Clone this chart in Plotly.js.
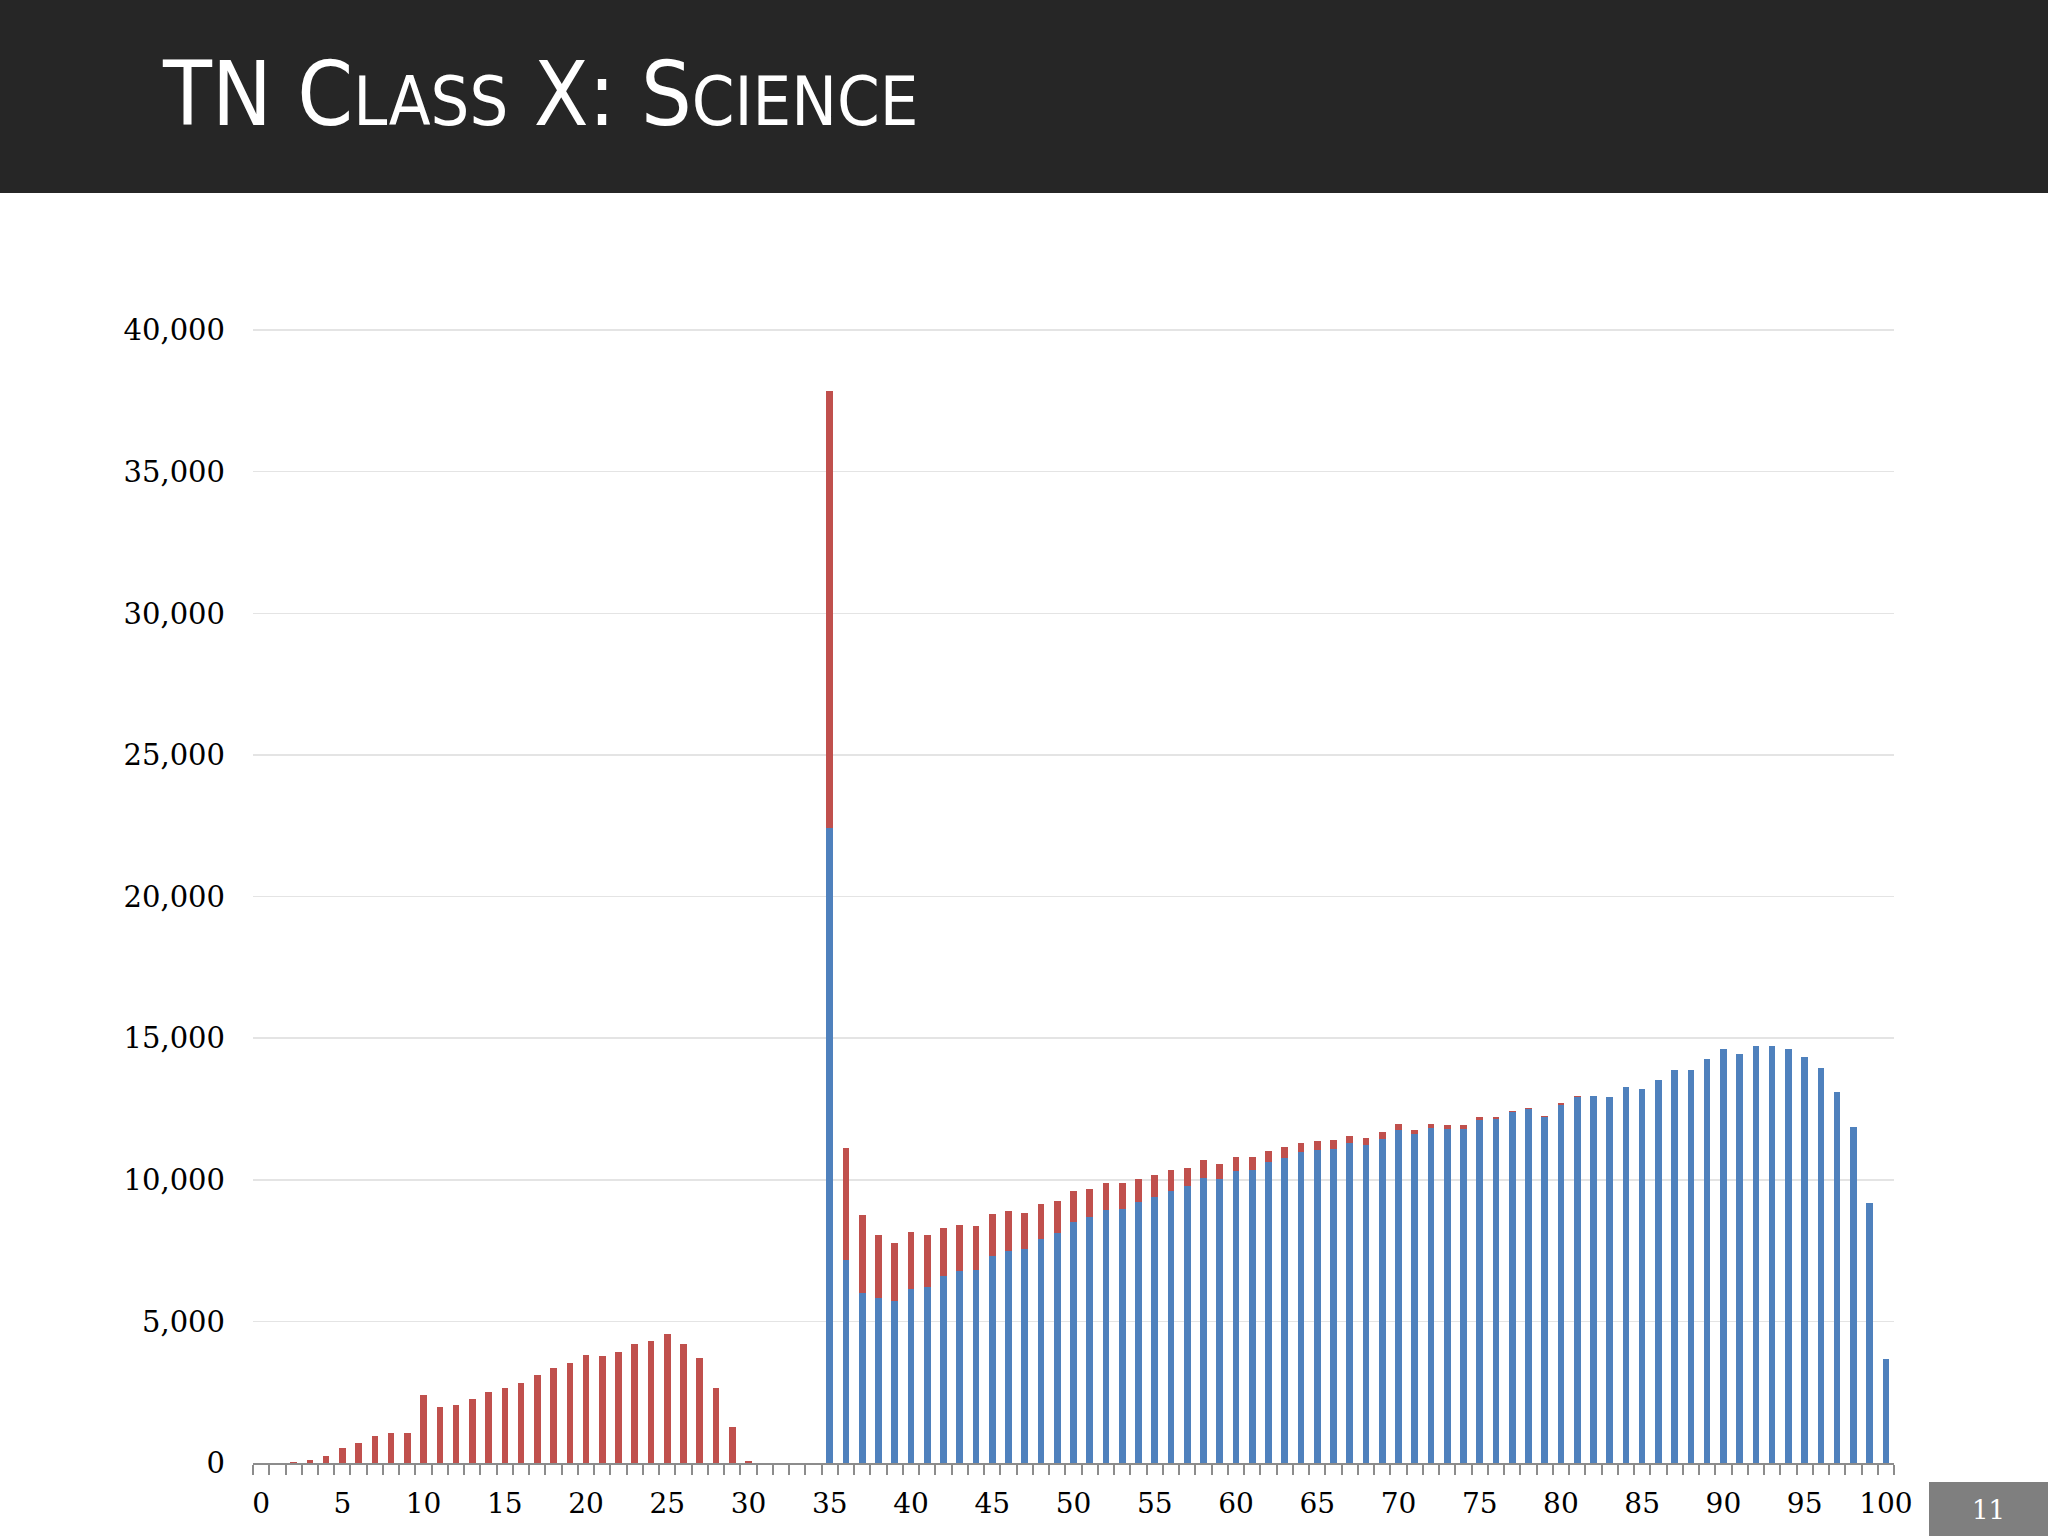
<!DOCTYPE html>
<html>
<head>
<meta charset="utf-8">
<script src="https://cdn.plot.ly/plotly-3.0.1.min.js"></script>
<style>
  html, body { margin: 0; padding: 0; background: #ffffff; }
  #chart { width: 2048px; height: 1536px; }
</style>
</head>
<body>
<div id="chart"></div>
<script>
// ---- data ----
const scores = Array.from({length: 101}, (_, i) => i);

const blueSeries = [
  0,0,0,0,0,0,0,0,0,0,
  0,0,0,0,0,0,0,0,0,0,
  0,0,0,0,0,0,0,0,0,0,
  0,0,0,0,0,22420,7163,6010,5833,5727,
  6150,6209,6586,6774,6821,7303,7503,7562,7903,8126,
  8514,8691,8926,8985,9208,9396,9614,9767,10067,10043,
  10314,10361,10631,10772,10972,11043,11101,11313,11243,11457,
  11745,11607,11819,11784,11795,12101,12160,12383,12489,12207,
  12642,12940,12960,12912,13265,13206,13536,13889,13865,14277,
  14618,14441,14735,14724,14618,14347,13936,13112,11854,9173,
  3669
];

const redSeries = [
  0,10,45,95,260,517,694,941,1071,1047,
  2400,1965,2059,2247,2494,2659,2812,3118,3353,3529,
  3823,3788,3918,4188,4306,4541,4212,3718,2659,1271,
  80,0,0,0,0,15430,3952,2763,2235,2046,
  2023,1847,1705,1623,1540,1482,1399,1282,1246,1117,
  1094,976,952,905,823,788,716,647,623,529,
  505,446,400,388,318,317,306,247,247,222,
  235,165,153,164,141,129,70,59,59,59,
  55,30,0,0,0,0,0,0,0,0,
  0,0,0,0,0,0,0,0,0,0,
  0
];

const xTickVals = [0,5,10,15,20,25,30,35,40,45,50,55,60,65,70,75,80,85,90,95,100];
const xTickText = xTickVals.map(String);
const yTickVals = [0,5000,10000,15000,20000,25000,30000,35000,40000];
const yTickText = ["0","5,000","10,000","15,000","20,000","25,000","30,000","35,000","40,000"];

const titleMain = 'TN C<span style="font-size:68px">LASS</span> X: S<span style="font-size:68px">CIENCE</span>';
const pageNumber = "11";

// ---- layout geometry ----
const W = 2048, H = 1536;
const M = {l: 253, r: 154, t: 329, b: 73};
const pw = W - M.l - M.r, ph = H - M.t - M.b;
const px = v => (v - M.l) / pw;
const py = v => (H - M.b - v) / ph;

const serif = '"DejaVu Serif", "Liberation Serif", serif';

const traces = [
  {
    type: 'bar', x: scores, y: blueSeries, name: 'blue',
    marker: {color: '#4F81BD', line: {width: 0}},
    hoverinfo: 'x+y'
  },
  {
    type: 'bar', x: scores, y: redSeries, name: 'red',
    marker: {color: '#C0504D', line: {width: 0}},
    hoverinfo: 'x+y'
  }
];

const layout = {
  width: W, height: H,
  margin: M,
  paper_bgcolor: '#ffffff',
  plot_bgcolor: '#ffffff',
  barmode: 'stack',
  bargap: 0.59,
  showlegend: false,
  xaxis: {
    range: [-0.5, 100.5],
    tickmode: 'array', tickvals: xTickVals, ticktext: xTickText,
    ticks: '',
    showgrid: false, zeroline: false,
    showline: true, linecolor: '#8c8c8c', linewidth: 2,
    tickfont: {family: serif, size: 28, color: '#000000'},
    ticklabelstandoff: 14,
    minor: {tickmode: 'linear', tick0: -0.5, dtick: 1, ticks: 'outside', ticklen: 10, tickwidth: 2, tickcolor: '#8c8c8c', showgrid: false}
  },
  yaxis: {
    range: [0, 40040],
    tickmode: 'array', tickvals: yTickVals, ticktext: yTickText,
    ticks: '',
    showgrid: true, gridcolor: '#e4e4e4', gridwidth: 1.5,
    zeroline: false, showline: false,
    tickfont: {family: serif, size: 29, color: '#000000'},
    ticklabelstandoff: 27
  },
  shapes: [
    {type: 'rect', xref: 'paper', yref: 'paper', layer: 'below',
     x0: px(0), x1: px(W), y0: py(193), y1: py(0),
     fillcolor: '#262626', line: {width: 0}},
    {type: 'rect', xref: 'paper', yref: 'paper', layer: 'above',
     x0: px(1929), x1: px(W), y0: py(H), y1: py(1482),
     fillcolor: '#7f7f7f', line: {width: 0}}
  ],
  annotations: [
    {xref: 'paper', yref: 'paper', x: px(160), y: py(94),
     xanchor: 'left', yanchor: 'middle', showarrow: false,
     text: titleMain,
     font: {family: '"Liberation Sans Narrow", "DejaVu Sans Condensed", "Open Sans", sans-serif', size: 89, color: '#ffffff'}},
    {xref: 'paper', yref: 'paper', x: px(1988), y: py(1510),
     xanchor: 'center', yanchor: 'middle', showarrow: false,
     text: pageNumber,
     font: {family: serif, size: 26, color: '#ffffff'}}
  ]
};

Plotly.newPlot('chart', traces, layout, {displayModeBar: false, staticPlot: true});
</script>
</body>
</html>
